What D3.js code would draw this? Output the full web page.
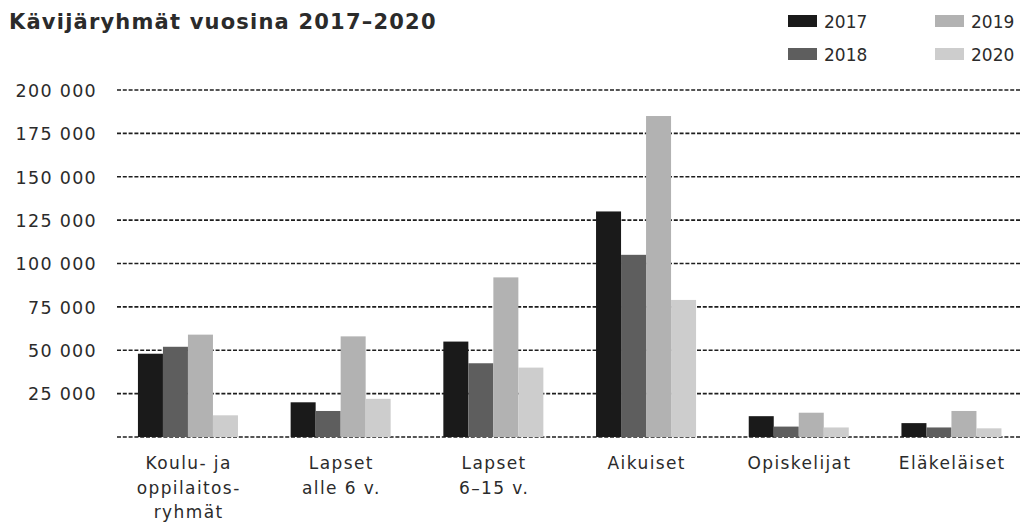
<!DOCTYPE html>
<html>
<head>
<meta charset="utf-8">
<script src="https://cdn.jsdelivr.net/npm/d3@7"></script>
<style>
  html, body { margin: 0; padding: 0; background: #ffffff; }
  svg { display: block; }
  text { font-family: "DejaVu Sans", sans-serif; fill: #2b2b2b; }
</style>
</head>
<body>
<svg id="chart" width="1026" height="526"></svg>
<script>
const categories = [
  ["Koulu- ja", "oppilaitos-", "ryhmät"],
  ["Lapset", "alle 6 v."],
  ["Lapset", "6–15 v."],
  ["Aikuiset"],
  ["Opiskelijat"],
  ["Eläkeläiset"]
];
const years = ["2017", "2018", "2019", "2020"];
const values2017 = [48000, 20000, 55000, 130000, 12000, 8000];
const values2018 = [52000, 15000, 42500, 105000, 6000, 5500];
const values2019 = [59000, 58000, 92000, 185000, 14000, 15000];
const values2020 = [12500, 22000, 40000, 79000, 5500, 5000];
const yTicks = [0, 25000, 50000, 75000, 100000, 125000, 150000, 175000, 200000];
const title = "Kävijäryhmät vuosina 2017–2020";

const seriesValues = [values2017, values2018, values2019, values2020];
const colors = ["#1a1a1a", "#5e5e5e", "#b2b2b2", "#cdcdcd"];

const svg = d3.select("#chart");

const x0 = d3.scaleBand()
  .domain(d3.range(categories.length))
  .range([111.6, 1027.8])
  .paddingInner(0.345)
  .paddingOuter(0.1725);

const x1 = d3.scaleBand()
  .domain(years)
  .range([0, x0.bandwidth()])
  .padding(0);

const y = d3.scaleLinear().domain([0, 200000]).range([437, 90]);

// gridlines
const fmt = v => v === 0 ? "" : d3.format(",")(v).replace(/,/g, " ");
const grid = svg.append("g");
grid.selectAll("line")
  .data(yTicks)
  .join("line")
  .attr("x1", 117)
  .attr("x2", 1021)
  .attr("y1", d => y(d))
  .attr("y2", d => y(d))
  .attr("stroke", "#1e1e1e")
  .attr("stroke-width", 1.6)
  .attr("stroke-dasharray", "4,1.8");

// y labels via axis
const yAxis = d3.axisLeft(y).tickValues(yTicks.filter(d => d > 0)).tickSize(0).tickPadding(0).tickFormat(fmt);
const yg = svg.append("g").attr("transform", "translate(97,0)").call(yAxis);
yg.select(".domain").remove();
yg.selectAll("text")
  .attr("font-size", 17.5)
  .attr("fill", "#3a3a3a")
  .attr("font-family", "'DejaVu Sans', sans-serif")
  .attr("letter-spacing", 1.3)
  .attr("dy", "0.36em");

// bars
const groups = svg.append("g").selectAll("g")
  .data(categories.map((c, i) => i))
  .join("g")
  .attr("transform", i => `translate(${x0(i)},0)`);

groups.selectAll("rect")
  .data(i => years.map((yr, k) => ({ yr, k, v: seriesValues[k][i] })))
  .join("rect")
  .attr("x", d => x1(d.yr))
  .attr("width", x1.bandwidth())
  .attr("y", d => y(d.v))
  .attr("height", d => y(0) - y(d.v))
  .attr("fill", d => colors[d.k]);

// category labels
const labels = svg.append("g").selectAll("text")
  .data(categories)
  .join("text")
  .attr("text-anchor", "middle")
  .attr("font-size", 17)
  .attr("letter-spacing", 1.4)
  .attr("fill", "#2b2b2b")
  .attr("transform", (c, i) => `translate(${x0(i) + x0.bandwidth() / 2 + 0.7},469)`);
labels.selectAll("tspan")
  .data(c => c)
  .join("tspan")
  .attr("x", 0)
  .attr("y", (d, j) => j * 24.5)
  .text(d => d);

// title
svg.append("text")
  .attr("x", 9)
  .attr("y", 29)
  .attr("font-size", 21)
  .attr("font-weight", "bold")
  .attr("letter-spacing", 1.2)
  .attr("fill", "#222")
  .text(title);

// legend
const legPos = [[788, 15], [788, 48], [935, 15], [935, 48]];
const leg = svg.append("g").selectAll("g")
  .data(years)
  .join("g")
  .attr("transform", (d, i) => `translate(${legPos[i][0]},${legPos[i][1]})`);
leg.append("rect")
  .attr("width", 29).attr("height", 12)
  .attr("fill", (d, i) => colors[i]);
leg.append("text")
  .attr("x", 36).attr("y", 12.5)
  .attr("font-size", 17)
  .attr("fill", "#2b2b2b")
  .text(d => d);
</script>
</body>
</html>
